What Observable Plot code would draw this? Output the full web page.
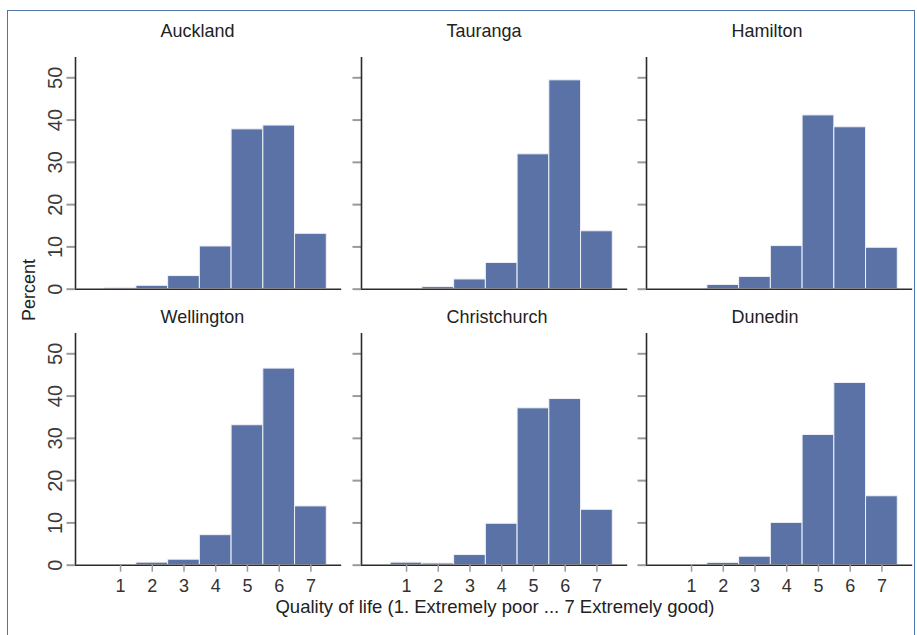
<!DOCTYPE html>
<html>
<head>
<meta charset="utf-8">
<script src="https://cdn.jsdelivr.net/npm/d3@7"></script>
<script src="https://cdn.jsdelivr.net/npm/@observablehq/plot@0.6"></script>
<style>
  body { margin: 0; background: #fff; font-family: "Liberation Sans", Arial, sans-serif; }
  #fig { position: relative; width: 917px; height: 635px; overflow: hidden; background: #fff; }
  #border { position: absolute; left: 7px; top: 10px; width: 908px; height: 660px;
            border: 1.5px solid #4f74ad; box-sizing: border-box; }
  .panel { position: absolute; }
  .panel svg { max-width: none; overflow: visible; display: block; }
  #ylab { position: absolute; left: 29px; top: 290px; font-size: 18px; line-height: 18px; color: #222;
          white-space: nowrap; transform: translate(-50%, -50%) rotate(-90deg); }
  #xlab { position: absolute; left: 0; width: 990px; top: 598px; font-size: 18.5px; line-height: 18px;
          color: #222; text-align: center; white-space: nowrap; }
</style>
</head>
<body>
<div id="fig">
  <div id="border"></div>
  <div id="ylab">Percent</div>
  <div id="xlab">Quality of life (1. Extremely poor ... 7 Extremely good)</div>
</div>
<script>
// ---- data ----
const cities = ["Auckland", "Tauranga", "Hamilton", "Wellington", "Christchurch", "Dunedin"];
const categories = [1, 2, 3, 4, 5, 6, 7];
const auckland     = [0.3, 0.8, 3.1, 10.1, 37.8, 38.7, 13.1];
const tauranga     = [0.0, 0.5, 2.3, 6.2, 31.9, 49.4, 13.7];
const hamilton     = [0.0, 1.0, 2.9, 10.2, 41.1, 38.3, 9.8];
const wellington   = [0.0, 0.6, 1.3, 7.1, 33.1, 46.5, 13.9];
const christchurch = [0.6, 0.4, 2.4, 9.8, 37.1, 39.3, 13.1];
const dunedin      = [0.0, 0.55, 2.0, 10.0, 30.8, 43.1, 16.3];
const yTicks = [0, 10, 20, 30, 40, 50];
const xTicks = [1, 2, 3, 4, 5, 6, 7];

const series = [auckland, tauranga, hamilton, wellington, christchurch, dunedin];

// ---- layout ----
const xDomain = [-0.42, 7.97];
const yDomain = [0, 54.8];
const FW = 266.2, FH = 231.7;        // frame size of each panel
const colStep = 285.7, rowStep = 276.6;
const frameLeft0 = 75, frameTop0 = 56.7;
const ML = 40, MR = 6, MT = 40, MB = 45;
const barFill = "#5a72a6";
const font = "'Liberation Sans', Arial, sans-serif";

const fig = document.getElementById("fig");

cities.forEach((city, i) => {
  const row = Math.floor(i / 3), col = i % 3;
  const table = categories.map((q, k) => ({q, pct: series[i][k]})).filter(d => d.pct > 0);

  const marks = [
    Plot.rect(table, {
      x1: d => d.q - 0.5, x2: d => d.q + 0.5, y1: 0, y2: "pct",
      fill: barFill, stroke: "#eef1f8", strokeWidth: 1
    }),
    Plot.axisY(yTicks, {
      tickSize: 8.5, tickPadding: 4.5, tickRotate: -90, fontSize: 20,
      stroke: "#9a9a9a", strokeWidth: 2, fill: "#3a3a3a",
      tickFormat: col === 0 ? (d => String(d)) : (() => ""), label: null
    }),
    Plot.ruleY([0], {stroke: "#2b2b2b", strokeWidth: 1.6}),
    Plot.ruleX([xDomain[0]], {stroke: "#2b2b2b", strokeWidth: 1.6}),
    Plot.text([city], {
      text: d => d, frameAnchor: "top-left", dx: 85, dy: row === 0 ? -20.7 : -10,
      textAnchor: "start", lineAnchor: "bottom", fontSize: 18, fill: "#222"
    })
  ];
  if (row === 1) {
    marks.push(Plot.axisX(xTicks, {
      tickSize: 7, tickPadding: 7, fontSize: 18, stroke: "#9a9a9a", strokeWidth: 1.5,
      fill: "#333", label: null
    }));
  }

  const chart = Plot.plot({
    width: ML + FW + MR,
    height: MT + FH + MB,
    marginLeft: ML, marginRight: MR, marginTop: MT, marginBottom: MB,
    x: {domain: xDomain, axis: row === 1 ? undefined : null},
    y: {domain: yDomain},
    style: {background: "transparent", fontFamily: font, overflow: "visible"},
    marks
  });

  const div = document.createElement("div");
  div.className = "panel";
  div.style.left = (frameLeft0 + col * colStep - ML) + "px";
  div.style.top = (frameTop0 + row * rowStep - MT) + "px";
  div.appendChild(chart);
  fig.appendChild(div);
});
</script>
</body>
</html>
